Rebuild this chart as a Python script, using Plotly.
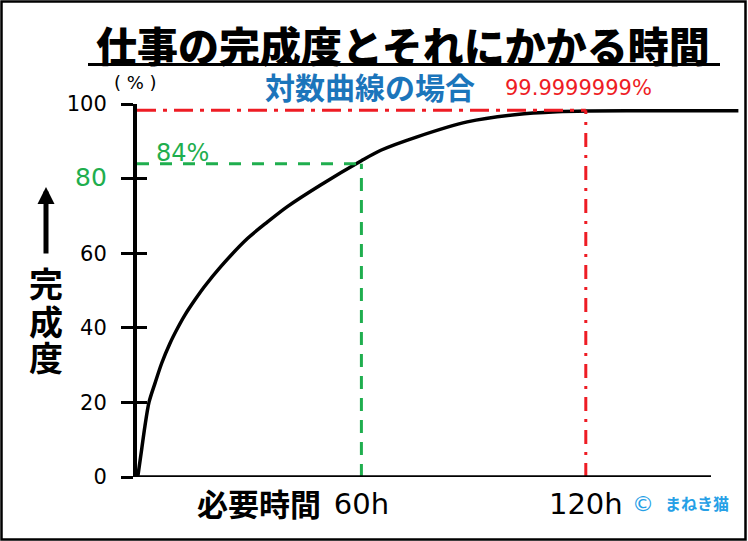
import plotly.graph_objects as go

# ---------------- data ----------------
hours = [0.2, 1.3, 2.1, 3.2, 4.8, 6.6, 8.8, 10.9, 12.8, 15.5, 18, 22.4, 29.6,
         34.9, 40.2, 49.1, 60, 65.2, 74.9, 88.3, 101.6, 112.3, 120.3, 140, 160.8]
completion = [0, 7.8, 13.5, 20, 25.1, 30.5, 35.8, 40, 43.4, 47.5, 51, 56.4, 64,
              68.4, 72.5, 78.3, 84.8, 87.6, 91.2, 95.2, 97.2, 97.9, 98.1, 98.2, 98.2]
guide_hours = [60, 120]          # 60h -> 84%, 120h -> 99.9999999%
guide_pcts = [84, 98.3]
y_ticks = [0, 20, 40, 60, 80, 100]
x_tick_labels = ["60h", "120h"]

# ---------------- layout helpers ----------------
W, H = 748, 541
L, R, T, B = 137, 740, 104, 477
PX_PER_H = 3.74
X_MAX = (R - L) / PX_PER_H
X_AXIS_END = (711 - L) / PX_PER_H


def px(x):
    return (x - L) / (R - L)


def py(y):
    return (B - y) / (B - T)


GREEN = "#1fae4e"
RED = "#ee1c24"
BLUE = "#1b75bb"
CBLUE = "#26a0e6"
JP = "Noto Sans CJK JP"
NUM = "DejaVu Sans"

fig = go.Figure()

# guide lines
fig.add_trace(go.Scatter(x=[0, guide_hours[0]], y=[guide_pcts[0]] * 2, yaxis="y2",
                         mode="lines", line=dict(color=GREEN, width=3, dash="12px,11px"),
                         hoverinfo="skip", showlegend=False))
fig.add_trace(go.Scatter(x=[guide_hours[0]] * 2, y=[0, guide_pcts[0]], yaxis="y2",
                         mode="lines", line=dict(color=GREEN, width=3, dash="13px,9px"),
                         hoverinfo="skip", showlegend=False))
fig.add_trace(go.Scatter(x=[0, guide_hours[1]], y=[guide_pcts[1]] * 2, yaxis="y2",
                         mode="lines", line=dict(color=RED, width=3, dash="19px,7px,4px,7px"),
                         hoverinfo="skip", showlegend=False))
fig.add_trace(go.Scatter(x=[guide_hours[1]] * 2, y=[0, guide_pcts[1]], yaxis="y2",
                         mode="lines", line=dict(color=RED, width=3, dash="14px,8px,3px,8px"),
                         hoverinfo="skip", showlegend=False))

# completion curve
fig.add_trace(go.Scatter(x=hours, y=completion, mode="lines",
                         line=dict(color="black", width=3.5, shape="spline", smoothing=0.8),
                         showlegend=False))

tick_text = [str(v) for v in y_ticks]
tick_text[y_ticks.index(80)] = '<span style="font-size:25px;color:%s">80</span>' % GREEN

fig.update_layout(
    width=W, height=H, autosize=False,
    margin=dict(l=L, r=W - R, t=T, b=H - B, pad=0),
    paper_bgcolor="white", plot_bgcolor="white",
    xaxis=dict(range=[0, X_MAX], showgrid=False, zeroline=False, showline=False,
               tickvals=guide_hours, ticktext=x_tick_labels, ticks="",
               tickfont=dict(family=NUM, size=29, color="black"),
               ticklabelstandoff=7, fixedrange=True),
    yaxis=dict(range=[0, 100], showgrid=False, zeroline=False, showline=True,
               linecolor="black", linewidth=4, ticks="outside", ticklen=12,
               tickwidth=3, tickcolor="black", tickvals=y_ticks, ticktext=tick_text,
               tickfont=dict(family=NUM, size=21, color="black"),
               ticklabelstandoff=10, fixedrange=True),
    yaxis2=dict(range=[0, 100], overlaying="y", side="left", showgrid=False,
                zeroline=False, showline=False, ticks="inside", ticklen=10,
                tickwidth=3, tickcolor="black", tickvals=y_ticks,
                showticklabels=False, fixedrange=True),
)

shapes = [
    # outer border
    dict(type="rect", xref="paper", yref="paper", x0=px(1.5), x1=px(745.5),
         y0=py(1.5), y1=py(539.5), line=dict(color="black", width=2.5),
         fillcolor="rgba(0,0,0,0)", layer="above"),
    # title underline
    dict(type="line", xref="paper", yref="paper", x0=px(88), x1=px(720),
         y0=py(64.5), y1=py(64.5), line=dict(color="black", width=3)),
    # x axis baseline
    dict(type="line", xref="x", yref="y", x0=0, x1=X_AXIS_END, y0=0, y1=0,
         line=dict(color="black", width=3.5), layer="above"),
]
fig.update_layout(shapes=shapes)


def ann(text, x, y, size, color="black", family=JP, weight="normal"):
    return dict(text=text, xref="paper", yref="paper", x=px(x), y=py(y),
                xanchor="center", yanchor="middle", showarrow=False,
                font=dict(family=family, size=size, color=color, weight=weight))


annotations = [
    ann("仕事の完成度とそれにかかる時間", 403, 44, 41, weight=900),
    ann("対数曲線の場合", 370, 86, 30, BLUE, weight="bold"),
    ann("99.9999999%", 578, 87.5, 21, RED, family=NUM),
    ann("84%", 182, 152.5, 24, GREEN, family=NUM),
    ann("( % )", 135, 83, 18, family=NUM),
    ann("完", 46, 282, 34, weight="bold"),
    ann("成", 46, 320, 34, weight="bold"),
    ann("度", 46, 356, 34, weight="bold"),
    ann("必要時間", 259, 502, 31, weight="bold"),
    ann("©", 643, 503, 22, CBLUE, family=NUM),
    ann("まねき猫", 697, 503, 16, CBLUE, weight="bold"),
    dict(text="", xref="paper", yref="paper", x=px(46), y=py(187),
         ax=0, ay=68, axref="pixel", ayref="pixel", showarrow=True,
         arrowhead=2, arrowwidth=5, arrowsize=0.68, arrowcolor="black"),
]
fig.update_layout(annotations=annotations)

fig.write_html("out.html", config={"displayModeBar": False},
               post_script="document.body.style.margin='0';")
